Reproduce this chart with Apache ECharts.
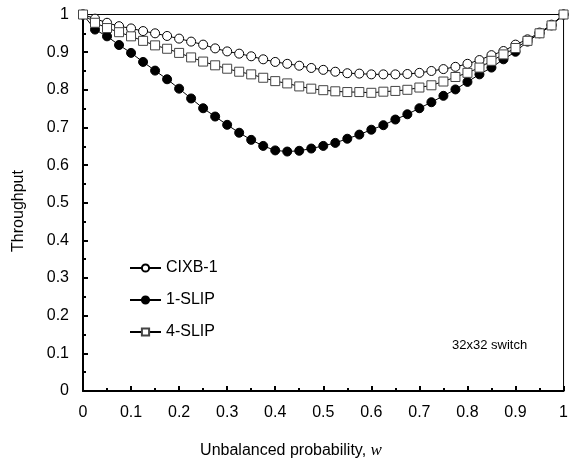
<!DOCTYPE html>
<html>
<head>
<meta charset="utf-8">
<script src="https://cdn.jsdelivr.net/npm/echarts@6/dist/echarts.min.js"></script>
<style>
html,body{margin:0;padding:0;background:#fff;}
#chart{width:571px;height:464px;}
</style>
</head>
<body>
<div id="chart"></div>
<script>
var xValues = [0,0.025,0.05,0.075,0.1,0.125,0.15,0.175,0.2,0.225,0.25,0.275,0.3,0.325,0.35,0.375,0.4,0.425,0.45,0.475,0.5,0.525,0.55,0.575,0.6,0.625,0.65,0.675,0.7,0.725,0.75,0.775,0.8,0.825,0.85,0.875,0.9,0.925,0.95,0.975,1];
var cixb1 = [1.0,0.989,0.978,0.969,0.963,0.956,0.950,0.943,0.936,0.928,0.920,0.910,0.902,0.896,0.889,0.881,0.874,0.869,0.864,0.858,0.853,0.848,0.844,0.843,0.841,0.841,0.841,0.842,0.845,0.850,0.855,0.861,0.869,0.879,0.892,0.903,0.920,0.934,0.952,0.973,1.0];
var slip1 = [1.0,0.960,0.942,0.919,0.898,0.874,0.851,0.828,0.803,0.777,0.751,0.729,0.707,0.686,0.667,0.651,0.639,0.636,0.638,0.644,0.651,0.659,0.670,0.681,0.694,0.706,0.721,0.735,0.751,0.767,0.784,0.801,0.821,0.841,0.859,0.881,0.901,0.928,0.950,0.971,1.0];
var slip4 = [1.0,0.978,0.964,0.953,0.942,0.930,0.918,0.909,0.898,0.886,0.875,0.865,0.856,0.848,0.841,0.832,0.823,0.817,0.809,0.803,0.799,0.796,0.794,0.794,0.792,0.795,0.797,0.800,0.806,0.812,0.822,0.834,0.845,0.859,0.877,0.894,0.911,0.930,0.950,0.971,1.0];
var seriesNames = ['CIXB-1','1-SLIP','4-SLIP'];
var xTitle = 'Unbalanced probability, ';
var xTitleVar = 'w';
var yTitle = 'Throughput';
var note = '32x32 switch';

function pairs(ys){ return xValues.map(function(x,i){ return [x, ys[i]]; }); }

var chart = echarts.init(document.getElementById('chart'), null, {renderer:'canvas'});
var font = 'Liberation Sans, Arial, sans-serif';
var axisCommon = {
  type:'value', min:0, max:1, interval:0.1,
  axisLine:{show:true, onZero:false, lineStyle:{color:'#000', width:2}},
  axisTick:{show:true, inside:true, length:5, lineStyle:{color:'#000', width:2}},
  minorTick:{show:true, splitNumber:2, length:3, lineStyle:{color:'#000', width:2}},
  splitLine:{show:false},
  axisLabel:{color:'#000', fontSize:16, fontFamily:font, margin:14}
};
chart.setOption({
  animation:false,
  backgroundColor:'#fff',
  grid:{left:83, right:2.5, top:14.5, bottom:73, show:true, borderColor:'#000', borderWidth:1},
  xAxis: Object.assign({}, axisCommon),
  yAxis: Object.assign({}, axisCommon),
  legend:{
    orient:'vertical', left:129, top:260, padding:0, itemWidth:31, itemHeight:9, itemGap:16,
    textStyle:{color:'#000', fontSize:16, fontFamily:font},
    data:seriesNames
  },
  graphic:[
    {type:'text', x:19, y:211, rotation:Math.PI/2, style:{text:yTitle, fill:'#000', font:'16px '+font, align:'center', verticalAlign:'middle'}},
    {type:'text', x:291, y:451, style:{
      text:'{a|'+xTitle+'}{b|'+xTitleVar+'}', align:'center', verticalAlign:'middle',
      rich:{a:{fontSize:16, fontFamily:font, fill:'#000'}, b:{fontSize:17, fontFamily:'Liberation Serif, Times New Roman, serif', fontStyle:'italic', fill:'#000'}}
    }},
    {type:'text', x:452, y:345, style:{text:note, fill:'#000', font:'13px '+font, align:'left', verticalAlign:'middle'}}
  ],
  series:[
    {name:seriesNames[0], type:'line', data:pairs(cixb1), symbol:'circle', symbolSize:9,
      lineStyle:{color:'#000', width:1}, itemStyle:{color:'#fff', borderColor:'#000', borderWidth:1}, z:3},
    {name:seriesNames[1], type:'line', data:pairs(slip1), symbol:'circle', symbolSize:9,
      lineStyle:{color:'#000', width:1}, itemStyle:{color:'#000', borderColor:'#000', borderWidth:1}, z:2},
    {name:seriesNames[2], type:'line', data:pairs(slip4), symbol:'rect', symbolSize:9,
      lineStyle:{color:'#000', width:1}, itemStyle:{color:'#fff', borderColor:'#444', borderWidth:1}, z:4}
  ]
});
</script>
</body>
</html>
